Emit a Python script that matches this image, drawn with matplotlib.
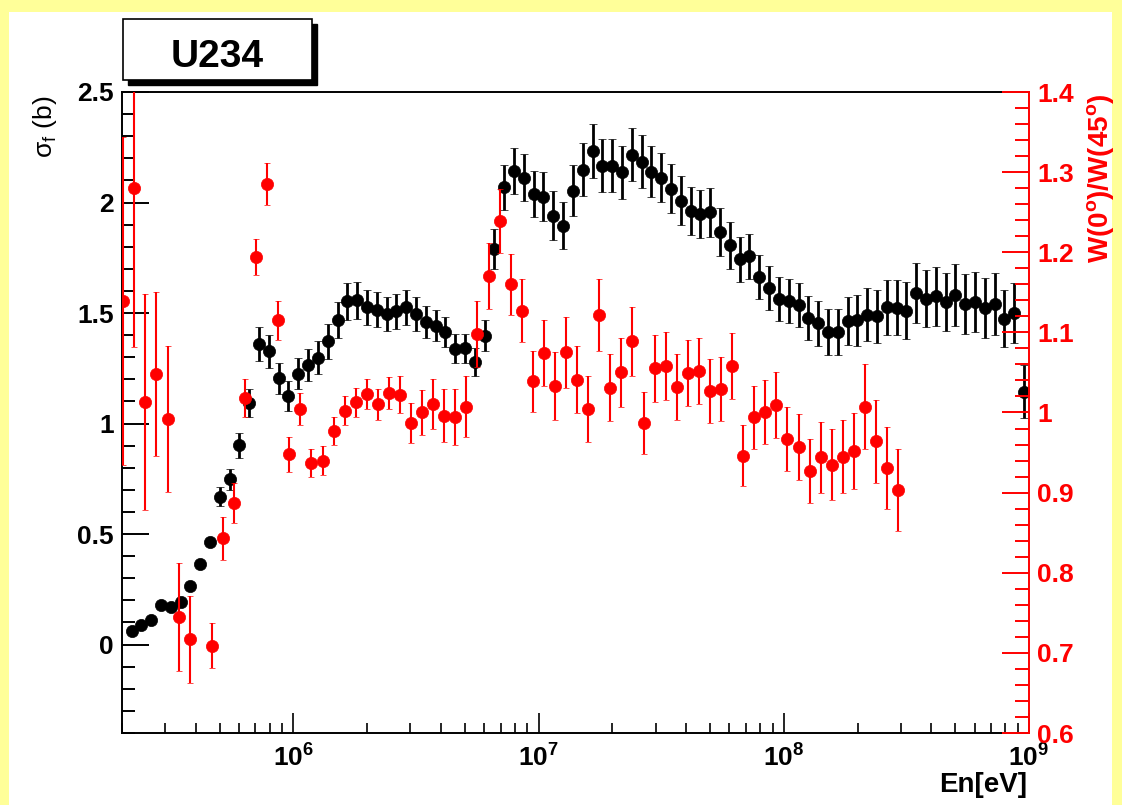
import numpy as np
import matplotlib.pyplot as plt
from matplotlib.patches import Rectangle
from matplotlib.ticker import FixedLocator, MultipleLocator, LogLocator, NullFormatter, FuncFormatter

plt.rcParams['font.family'] = ['Liberation Sans', 'DejaVu Sans']
plt.rcParams['font.weight'] = 'bold'
plt.rcParams['mathtext.fontset'] = 'custom'
plt.rcParams['mathtext.rm'] = 'Liberation Sans:bold'
plt.rcParams['mathtext.bf'] = 'Liberation Sans:bold'
plt.rcParams['mathtext.it'] = 'Liberation Sans:bold'

# fission cross section (black), log10(En/eV)
sigma_loge = [5.34, 5.38, 5.42, 5.46, 5.50, 5.54, 5.58, 5.62, 5.66, 5.70,
              5.74, 5.78, 5.82, 5.86, 5.90, 5.94, 5.98, 6.02, 6.06, 6.10,
              6.14, 6.18, 6.22, 6.26, 6.30, 6.34, 6.38, 6.42, 6.46, 6.50,
              6.54, 6.58, 6.62, 6.66, 6.70, 6.74, 6.78, 6.82, 6.86, 6.90,
              6.94, 6.98, 7.02, 7.06, 7.10, 7.14, 7.18, 7.22, 7.26, 7.30,
              7.34, 7.38, 7.42, 7.46, 7.50, 7.54, 7.58, 7.62, 7.66, 7.70,
              7.74, 7.78, 7.82, 7.86, 7.90, 7.94, 7.98, 8.02, 8.06, 8.10,
              8.14, 8.18, 8.22, 8.26, 8.30, 8.34, 8.38, 8.42, 8.46, 8.50,
              8.54, 8.58, 8.62, 8.66, 8.70, 8.74, 8.78, 8.82, 8.86, 8.90,
              8.94, 8.98]
sigma = [0.062, 0.088, 0.112, 0.181, 0.168, 0.194, 0.264, 0.364, 0.466, 0.668,
         0.747, 0.902, 1.094, 1.360, 1.327, 1.204, 1.124, 1.225, 1.264, 1.297,
         1.372, 1.470, 1.553, 1.557, 1.526, 1.515, 1.496, 1.508, 1.526, 1.496,
         1.460, 1.443, 1.415, 1.338, 1.341, 1.277, 1.398, 1.790, 2.068, 2.143,
         2.113, 2.038, 2.027, 1.940, 1.896, 2.053, 2.148, 2.231, 2.166, 2.166,
         2.137, 2.217, 2.185, 2.140, 2.113, 2.062, 2.008, 1.962, 1.948, 1.955,
         1.866, 1.806, 1.744, 1.756, 1.663, 1.612, 1.565, 1.556, 1.535, 1.476,
         1.453, 1.415, 1.413, 1.464, 1.467, 1.493, 1.485, 1.526, 1.524, 1.511,
         1.591, 1.565, 1.575, 1.549, 1.583, 1.541, 1.550, 1.523, 1.542, 1.475,
         1.500, 1.144]
sigma_err = [0.005, 0.005, 0.005, 0.005, 0.005, 0.005, 0.005, 0.005, 0.005, 0.043,
             0.047, 0.056, 0.064, 0.078, 0.075, 0.070, 0.068, 0.070, 0.072, 0.075,
             0.078, 0.082, 0.084, 0.084, 0.080, 0.078, 0.076, 0.078, 0.080, 0.076,
             0.072, 0.070, 0.068, 0.066, 0.066, 0.063, 0.070, 0.090, 0.100, 0.104,
             0.105, 0.105, 0.110, 0.110, 0.105, 0.115, 0.120, 0.122, 0.120, 0.120,
             0.120, 0.120, 0.120, 0.115, 0.110, 0.110, 0.110, 0.110, 0.110, 0.110,
             0.110, 0.105, 0.102, 0.103, 0.100, 0.100, 0.100, 0.100, 0.100, 0.100,
             0.100, 0.104, 0.104, 0.110, 0.115, 0.120, 0.120, 0.125, 0.125, 0.128,
             0.134, 0.130, 0.135, 0.130, 0.140, 0.135, 0.135, 0.135, 0.140, 0.130,
             0.135, 0.120]

# anisotropy W(0)/W(45) (red), log10(En/eV)
ratio_loge = [5.306, 5.351, 5.396, 5.441, 5.487, 5.532, 5.577, 5.667, 5.712,
              5.757, 5.803, 5.848, 5.893, 5.938, 5.983, 6.028, 6.073, 6.119, 6.164,
              6.209, 6.254, 6.299, 6.344, 6.389, 6.435, 6.480, 6.525, 6.570, 6.615,
              6.660, 6.705, 6.750, 6.796, 6.841, 6.886, 6.931, 6.976, 7.021, 7.066,
              7.112, 7.157, 7.202, 7.247, 7.292, 7.337, 7.382, 7.428, 7.473, 7.518,
              7.563, 7.608, 7.653, 7.698, 7.744, 7.789, 7.834, 7.879, 7.924, 7.969,
              8.014, 8.060, 8.105, 8.150, 8.195, 8.240, 8.285, 8.330, 8.376, 8.421,
              8.466]
ratio = [1.139, 1.280, 1.013, 1.048, 0.992, 0.745, 0.717, 0.709, 0.843,
         0.887, 1.018, 1.194, 1.285, 1.115, 0.948, 1.004, 0.937, 0.940, 0.977,
         1.002, 1.013, 1.023, 1.010, 1.024, 1.022, 0.987, 1.000, 1.011, 0.996,
         0.994, 1.007, 1.098, 1.170, 1.239, 1.160, 1.127, 1.039, 1.074, 1.033,
         1.075, 1.041, 1.004, 1.122, 1.031, 1.050, 1.089, 0.987, 1.055, 1.058,
         1.032, 1.049, 1.052, 1.027, 1.029, 1.058, 0.946, 0.994, 1.001, 1.009,
         0.967, 0.957, 0.927, 0.944, 0.935, 0.945, 0.952, 1.007, 0.964, 0.931,
         0.903]
ratio_err = [0.205, 0.198, 0.135, 0.102, 0.091, 0.067, 0.054, 0.028, 0.027,
             0.025, 0.024, 0.023, 0.026, 0.024, 0.022, 0.020, 0.018, 0.018, 0.017,
             0.018, 0.018, 0.019, 0.019, 0.020, 0.023, 0.025, 0.028, 0.031, 0.033,
             0.035, 0.038, 0.041, 0.041, 0.040, 0.038, 0.039, 0.038, 0.041, 0.042,
             0.044, 0.042, 0.041, 0.045, 0.042, 0.043, 0.043, 0.039, 0.042, 0.042,
             0.041, 0.041, 0.041, 0.040, 0.040, 0.041, 0.038, 0.039, 0.040, 0.041,
             0.040, 0.041, 0.040, 0.044, 0.044, 0.046, 0.047, 0.053, 0.052, 0.051,
             0.051]

W, H = 1122, 805
fig = plt.figure(figsize=(W / 100, H / 100), dpi=100, facecolor='#ffff99')
fig.patches.append(Rectangle((9 / W, 0), 1103 / W, 793 / H, transform=fig.transFigure,
                             facecolor='white', edgecolor='none', zorder=-10))

ax = fig.add_axes([122 / W, 72 / H, 907 / W, 641 / H])
ax.set_xscale('log')
ax.set_xlim(2e5, 1e9)
ax.set_ylim(-0.4, 2.5)

ax.errorbar(10 ** np.array(sigma_loge), sigma, yerr=sigma_err, fmt='o', color='black',
            ms=8.8, mew=0.5, elinewidth=2.0, capsize=3, capthick=2.0)

for s in ['left', 'top', 'bottom']:
    ax.spines[s].set_linewidth(1.4)
ax.spines['right'].set_visible(False)

ax.yaxis.set_major_locator(FixedLocator([0, 0.5, 1, 1.5, 2, 2.5]))
ax.yaxis.set_minor_locator(MultipleLocator(0.1))
ax.yaxis.set_major_formatter(FuncFormatter(lambda v, p: '%g' % v))
ax.xaxis.set_major_locator(FixedLocator([1e6, 1e7, 1e8, 1e9]))
ax.xaxis.set_minor_locator(LogLocator(base=10, subs=np.arange(2, 10)))
ax.xaxis.set_minor_formatter(NullFormatter())
ax.xaxis.set_major_formatter(FuncFormatter(lambda v, p: r'$\mathbf{10^{%d}}$' % round(np.log10(v))))

ax.tick_params(axis='y', which='major', direction='in', length=19.5, width=1.4, labelsize=19, pad=6)
ax.tick_params(axis='y', which='minor', direction='in', length=9.5, width=1.4)
ax.tick_params(axis='x', which='major', direction='in', length=14.5, width=1.2, labelsize=19, pad=8)
ax.tick_params(axis='x', which='minor', direction='in', length=7.2, width=1.2)
ax.tick_params(top=False, right=False, which='both')

ax2 = ax.twinx()
ax2.set_ylim(0.6, 1.4)
ax2.errorbar(10 ** np.array(ratio_loge), ratio, yerr=ratio_err, fmt='o', color='red',
             ms=8.8, mew=0.5, elinewidth=1.5, capsize=2.5, capthick=1.5)
for s in ['left', 'top', 'bottom']:
    ax2.spines[s].set_visible(False)
ax2.spines['right'].set_color('red')
ax2.spines['right'].set_linewidth(1.4)
ax2.yaxis.set_major_locator(FixedLocator([0.6, 0.7, 0.8, 0.9, 1.0, 1.1, 1.2, 1.3, 1.4]))
ax2.yaxis.set_minor_locator(MultipleLocator(0.02))
ax2.yaxis.set_major_formatter(FuncFormatter(lambda v, p: '%g' % round(v, 2)))
ax2.tick_params(axis='y', which='major', direction='in', length=19.5, width=1.4, labelsize=19,
                pad=6, color='red', labelcolor='red')
ax2.tick_params(axis='y', which='minor', direction='in', length=10, width=1.4, color='red')

fig.text(45 / W, 1 - 96 / H, 'σ$_{\\mathregular{f}}$ (b)', rotation=90, ha='center', va='top',
         fontsize=19, fontweight='normal')
fig.text(1100 / W, 1 - 93 / H, 'W(0$^{o}$)/W(45$^{o}$)', rotation=90, ha='center', va='top',
         fontsize=20, fontweight='bold', color='red')
fig.text(1027 / W, 1 - 792 / H, 'En[eV]', ha='right', va='baseline', fontsize=20, fontweight='bold')

# title box with shadow
fig.patches.append(Rectangle((128 / W, 1 - 85 / H), 189 / W, 61 / H, transform=fig.transFigure,
                             facecolor='black', edgecolor='black', zorder=5))
fig.patches.append(Rectangle((123 / W, 1 - 80 / H), 189 / W, 61 / H, transform=fig.transFigure,
                             facecolor='white', edgecolor='black', lw=1.2, zorder=6))
fig.text(217.5 / W, 1 - 66.7 / H, 'U234', ha='center', va='baseline', fontsize=28,
         fontweight='bold', zorder=7)

fig.savefig('out.png', dpi=100, facecolor=fig.get_facecolor())
